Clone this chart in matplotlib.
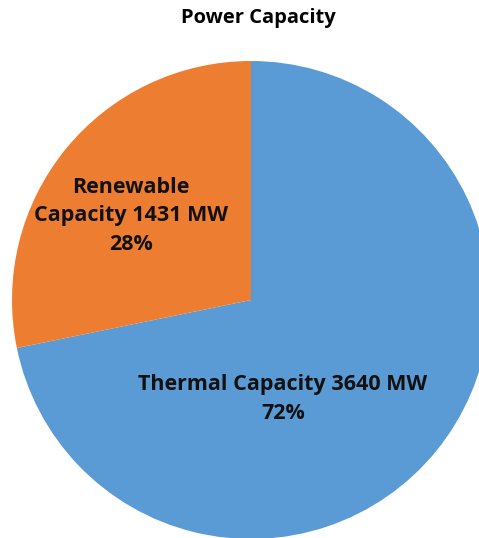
import matplotlib.pyplot as plt

# data
labels = ["Thermal Capacity 3640 MW", "Renewable\nCapacity 1431 MW"]
values = [3640, 1431]
colors = ["#5B9BD5", "#ED7D31"]

W, H = 479, 538
fig = plt.figure(figsize=(W / 100, H / 100), dpi=100)
ax = fig.add_axes([0, 0, 1, 1])

cx, cy, r = 251, H - 300, 239
total = sum(values)

wedges, _ = ax.pie(values, colors=colors, startangle=90, counterclock=False,
                   center=(cx, cy), radius=r, frame=True,
                   wedgeprops=dict(linewidth=0))
ax.set_xlim(0, W)
ax.set_ylim(0, H)
ax.axis("off")

# label positions (pixel-space, from the reference)
label_pos = [(283, H - 399), (131, H - 216)]
for lab, val, (x, y) in zip(labels, values, label_pos):
    pct = f"{round(val / total * 100):d}%"
    ax.text(x, y, f"{lab}\n{pct}", ha="center", va="center",
            fontsize=15.5, fontweight="bold", color="#111111",
            family="Open Sans", linespacing=1.45)

fig.text(258 / W, 1 - 18 / H, "Power Capacity", ha="center", va="center",
         fontsize=14.5, fontweight="bold", color="black", family="Open Sans")

fig.savefig("out.png", dpi=100)
